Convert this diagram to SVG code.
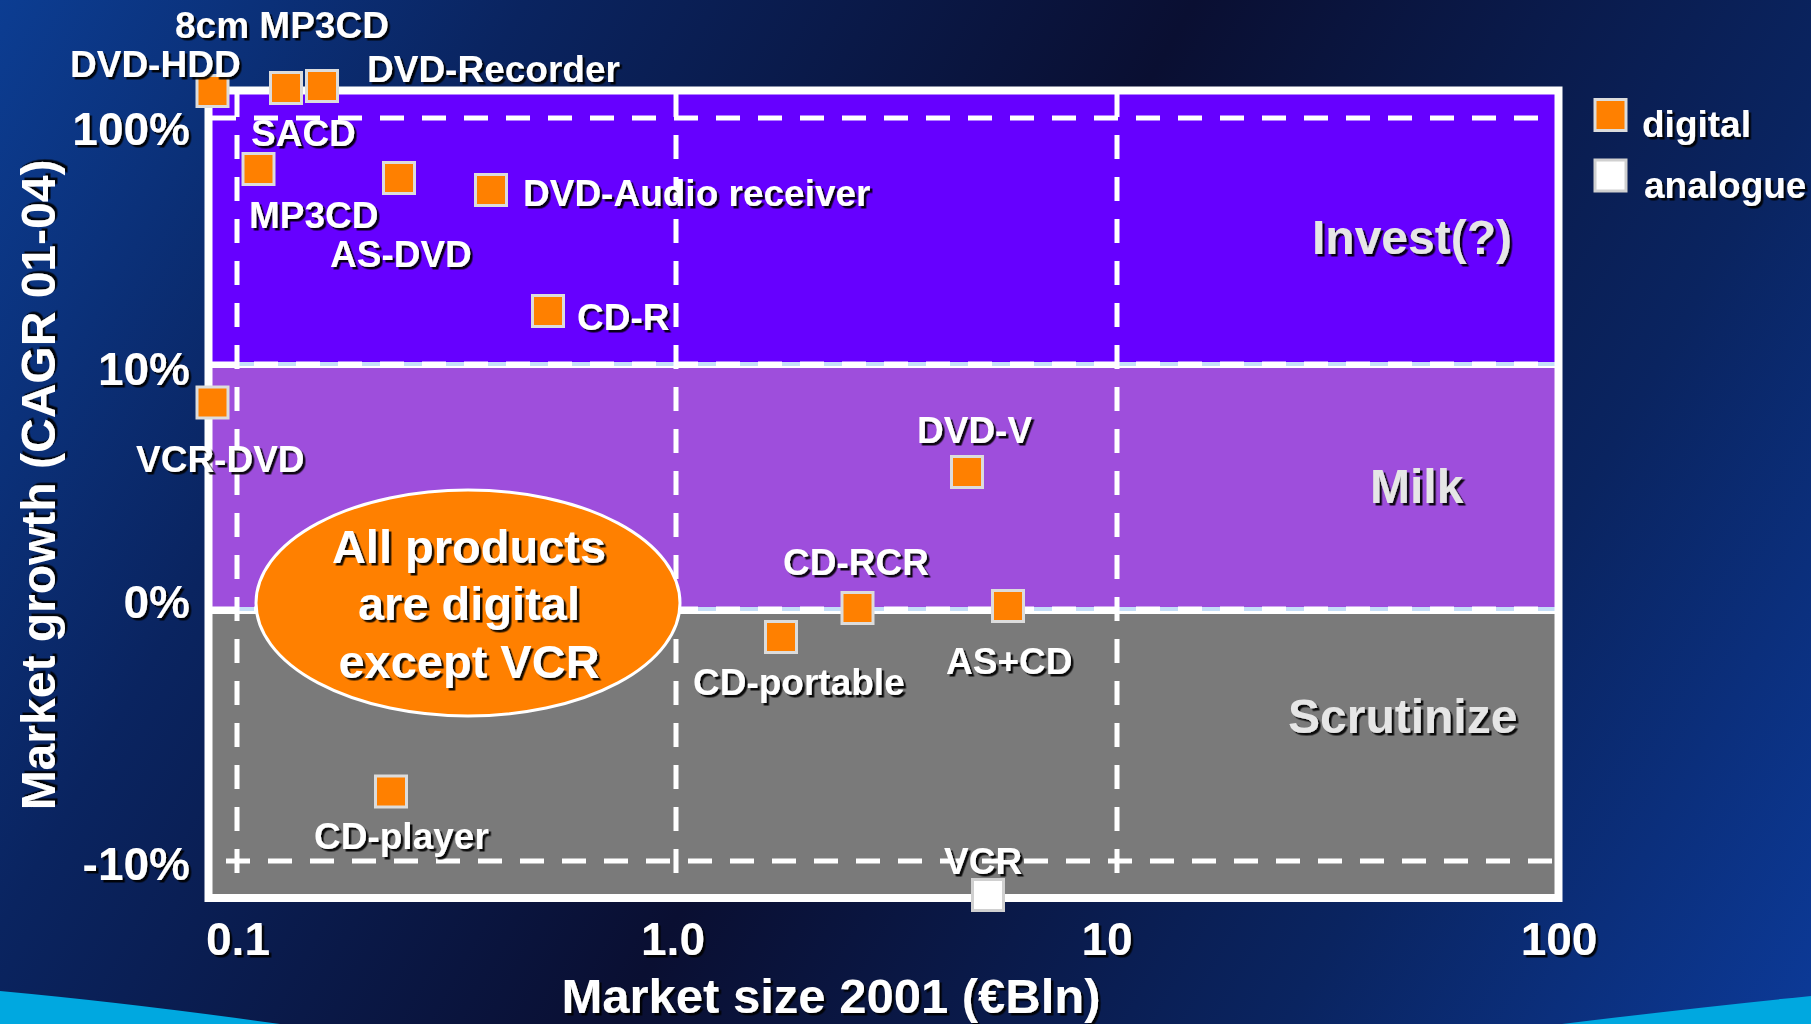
<svg xmlns="http://www.w3.org/2000/svg" width="1811" height="1024" viewBox="0 0 1811 1024">
<defs>
<linearGradient id="bg" x1="0" y1="0" x2="1811" y2="1024" gradientUnits="userSpaceOnUse">
<stop offset="0" stop-color="#0c3d92"/>
<stop offset="0.22" stop-color="#0a2460"/>
<stop offset="0.5" stop-color="#0a0f32"/>
<stop offset="0.78" stop-color="#0a2460"/>
<stop offset="1" stop-color="#0c3a98"/>
</linearGradient>
<filter id="sh" x="-10%" y="-20%" width="130%" height="150%">
<feDropShadow dx="2.5" dy="2.5" stdDeviation="0.5" flood-color="#000" flood-opacity="0.9"/>
</filter>
<style>
.t{font-family:"Liberation Sans",Arial,sans-serif;font-weight:bold;fill:#fff;filter:url(#sh)}
.lab{font-size:37px}
.ax{font-size:46px}
.q{font-size:48px;fill:#e6e6e6}
.el{font-size:47px;text-anchor:middle}
.mk{fill:#ff8000;stroke:#dcdcdc;stroke-width:3}
.mkw{fill:#ffffff;stroke:#d0d0d0;stroke-width:3}
.dash{stroke:#fff;stroke-width:5;stroke-dasharray:24 18;fill:none}
.bnd{stroke:#c4def8;stroke-width:4;fill:none}
</style>
</defs>
<rect x="0" y="0" width="1811" height="1024" fill="url(#bg)"/>
<path d="M0,991 Q130,1003 280,1024 L0,1024 Z" fill="#00a8e0"/>
<path d="M1811,996 Q1700,1007 1562,1024 L1811,1024 Z" fill="#00a8e0"/>

<g id="plot">
<rect x="210" y="91" width="1347" height="274" fill="#6600ff"/>
<rect x="210" y="365" width="1347" height="245" fill="#9e4edc"/>
<rect x="210" y="610" width="1347" height="288" fill="#7a7a7a"/>
</g>

<g id="grid">
<line class="bnd" x1="210" y1="364" x2="1556" y2="364"/>
<line class="dash" x1="212" y1="364" x2="1556" y2="364" stroke-width="4"/>
<line x1="210" y1="367" x2="1556" y2="367" stroke="#fff" stroke-width="2"/>
<line class="bnd" x1="210" y1="609" x2="1556" y2="609"/>
<line class="dash" x1="212" y1="609" x2="1556" y2="609" stroke-width="4"/>
<line x1="210" y1="612.5" x2="1556" y2="612.5" stroke="#fff" stroke-width="3"/>
<line class="dash" x1="212" y1="118" x2="1553" y2="118"/>
<line class="dash" x1="226" y1="861" x2="1553" y2="861"/>
<line class="dash" x1="237" y1="93" x2="237" y2="890"/>
<line class="dash" x1="676" y1="93" x2="676" y2="890"/>
<line class="dash" x1="1117" y1="93" x2="1117" y2="890"/>
<rect x="208.5" y="90.5" width="1350" height="807.5" fill="none" stroke="#fff" stroke-width="8"/>
</g>

<g id="axes">
<text class="t ax" x="190" y="145" text-anchor="end">100%</text>
<text class="t ax" x="190" y="385" text-anchor="end">10%</text>
<text class="t ax" x="190" y="618" text-anchor="end">0%</text>
<text class="t ax" x="190" y="880" text-anchor="end">-10%</text>
<text class="t ax" x="238" y="955" text-anchor="middle">0.1</text>
<text class="t ax" x="673" y="955" text-anchor="middle">1.0</text>
<text class="t ax" x="1107" y="955" text-anchor="middle">10</text>
<text class="t ax" x="1559" y="955" text-anchor="middle">100</text>
<text class="t ax" x="831" y="1013" text-anchor="middle" style="font-size:49px">Market size 2001 (€Bln)</text>
<text class="t ax" x="0" y="0" text-anchor="middle" transform="translate(55,485) rotate(-90)" style="font-size:48px">Market growth (CAGR 01-04)</text>
</g>

<g id="quadrants">
<text class="t q" x="1312" y="254">Invest(?)</text>
<text class="t q" x="1370" y="503">Milk</text>
<text class="t q" x="1288" y="733">Scrutinize</text>
</g>

<g id="note">
<ellipse cx="468" cy="603" rx="212" ry="113" fill="#ff8000" stroke="#fff" stroke-width="3"/>
<text class="t el" x="469" y="563">All products</text>
<text class="t el" x="469" y="620">are digital</text>
<text class="t el" x="469" y="678">except VCR</text>
</g>

<g id="dvd-hdd"><rect class="mk" x="197" y="75.5" width="31" height="31"/><text class="t lab" x="70" y="77">DVD-HDD</text></g>
<g id="mp3cd-8cm"><rect class="mk" x="270.5" y="72.5" width="31" height="31"/><text class="t lab" x="175" y="38">8cm MP3CD</text></g>
<g id="dvd-recorder"><rect class="mk" x="306.5" y="70.5" width="31" height="31"/><text class="t lab" x="367" y="82">DVD-Recorder</text></g>
<g id="sacd-mp3cd"><rect class="mk" x="243" y="153.5" width="31" height="31"/><text class="t lab" x="251" y="146">SACD</text><text class="t lab" x="249" y="228">MP3CD</text></g>
<g id="as-dvd"><rect class="mk" x="383.5" y="162.5" width="31" height="31"/><text class="t lab" x="330" y="267">AS-DVD</text></g>
<g id="dvd-audio"><rect class="mk" x="475.5" y="174.5" width="31" height="31"/><text class="t lab" x="523" y="206">DVD-Audio receiver</text></g>
<g id="cd-r"><rect class="mk" x="532.5" y="295.5" width="31" height="31"/><text class="t lab" x="577" y="330">CD-R</text></g>
<g id="vcr-dvd"><rect class="mk" x="197" y="387" width="31" height="31"/><text class="t lab" x="136" y="472">VCR-DVD</text></g>
<g id="dvd-v"><rect class="mk" x="951.5" y="456.5" width="31" height="31"/><text class="t lab" x="917" y="443">DVD-V</text></g>
<g id="cd-rcr"><rect class="mk" x="842" y="592.5" width="31" height="31"/><text class="t lab" x="783" y="575">CD-RCR</text></g>
<g id="as-cd"><rect class="mk" x="992.5" y="590.5" width="31" height="31"/><text class="t lab" x="946" y="674">AS+CD</text></g>
<g id="cd-portable"><rect class="mk" x="765.5" y="621.5" width="31" height="31"/><text class="t lab" x="693" y="695">CD-portable</text></g>
<g id="cd-player"><rect class="mk" x="375.5" y="776" width="31" height="31"/><text class="t lab" x="314" y="849">CD-player</text></g>
<g id="vcr"><rect class="mkw" x="972.5" y="879.5" width="31" height="31"/><text class="t lab" x="944" y="874">VCR</text></g>

<g id="legend">
<rect class="mk" x="1595" y="99.5" width="31" height="31"/>
<text class="t lab" x="1642" y="137">digital</text>
<rect class="mkw" x="1595" y="160" width="31" height="31"/>
<text class="t lab" x="1644" y="198">analogue</text>
</g>
</svg>
